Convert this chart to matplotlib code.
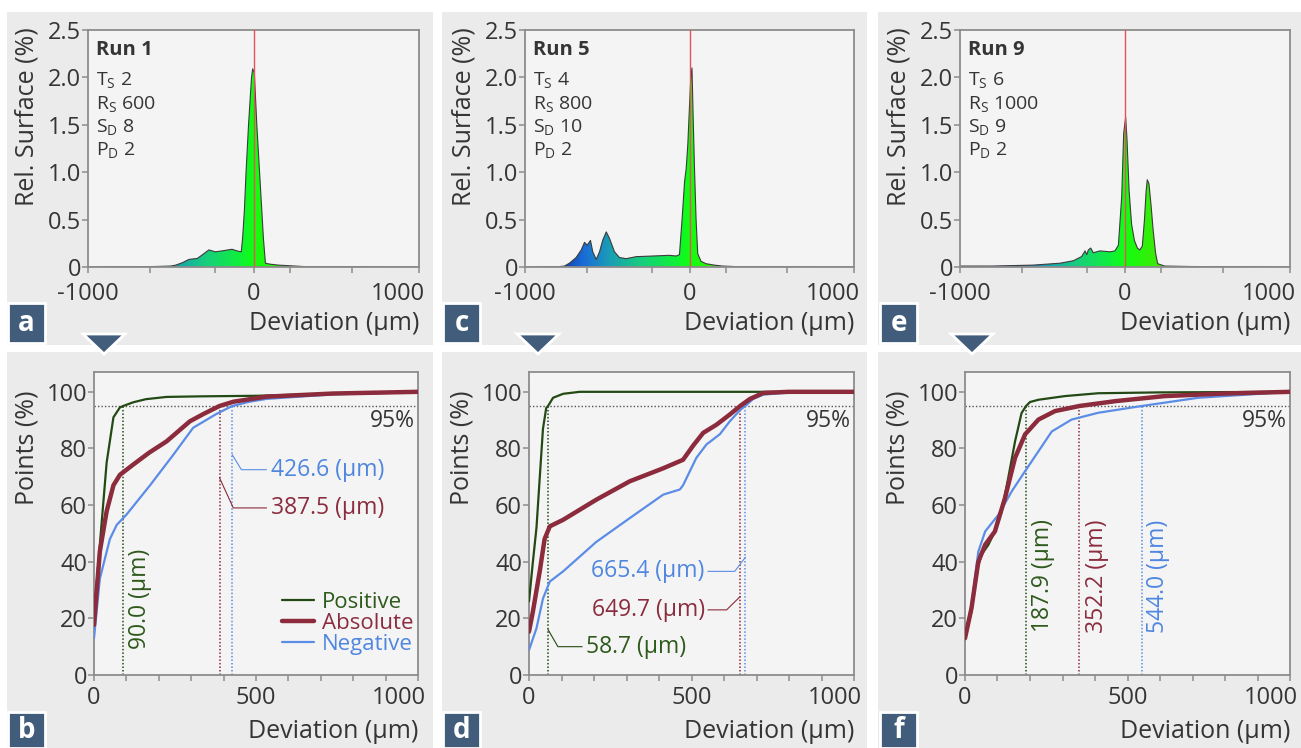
import numpy as np
import matplotlib
matplotlib.use("Agg")
import matplotlib.pyplot as plt
from matplotlib.colors import LinearSegmentedColormap
from matplotlib.patches import Rectangle, Polygon
from matplotlib.transforms import ScaledTranslation

plt.rcParams["font.family"] = ["Open Sans", "DejaVu Sans"]

W, H = 1301, 748

# ---- top row: relative surface histograms (deviation in um, rel. surface in %)
run1_x = [-1000, -800, -600, -500, -470, -430, -390, -340, -310, -270, -230, -190,
          -130, -100, -74, -66, -55, -45, -30, -12, -5, 5, 20, 40, 60, 72, 100,
          150, 200, 300, 400, 1000]
run1_y = [0.0, 0.003, 0.005, 0.01, 0.02, 0.045, 0.08, 0.09, 0.127, 0.18, 0.16, 0.17,
          0.187, 0.17, 0.16, 0.3, 0.6, 1.0, 1.5, 2.0, 2.09, 2.05, 1.5, 0.9, 0.3,
          0.04, 0.03, 0.02, 0.015, 0.005, 0.003, 0.0]

run5_x = [-1000, -800, -760, -730, -689, -658, -638, -622, -602, -588, -567, -547,
          -527, -506, -486, -456, -426, -385, -324, -223, -122, -81, -61, -44,
          -30, -20, -10, 0, 8, 15, 22, 30, 40, 50, 70, 100, 150, 200, 300, 1000]
run5_y = [0.0, 0.003, 0.01, 0.04, 0.10, 0.18, 0.26, 0.23, 0.28, 0.16, 0.08, 0.16,
          0.285, 0.37, 0.30, 0.16, 0.10, 0.088, 0.109, 0.116, 0.123, 0.116, 0.13,
          0.53, 0.9, 1.04, 1.3, 1.7, 2.0, 2.1, 1.6, 1.06, 0.5, 0.14, 0.06, 0.035,
          0.02, 0.01, 0.003, 0.0]

run9_x = [-1000, -800, -556, -394, -313, -263, -242, -232, -222, -208, -192, -152,
          -91, -61, -40, -20, -8, 4, 12, 25, 40, 57, 75, 90, 105, 118, 128, 135,
          145, 158, 170, 185, 198, 240, 400, 1000]
run9_y = [0.01, 0.01, 0.02, 0.04, 0.066, 0.11, 0.17, 0.13, 0.18, 0.2, 0.15, 0.17,
          0.16, 0.17, 0.23, 0.74, 1.41, 1.58, 1.35, 0.8, 0.45, 0.28, 0.2, 0.18,
          0.22, 0.5, 0.8, 0.92, 0.88, 0.65, 0.4, 0.15, 0.035, 0.01, 0.005, 0.0]

run_names = ["Run 1", "Run 5", "Run 9"]
ts_vals = [2, 4, 6]
rs_vals = [600, 800, 1000]
sd_vals = [8, 10, 9]
pd_vals = [2, 2, 2]

# ---- bottom row: cumulative points (%) vs deviation (um)
b_pos_x = [0, 18, 39, 60, 80, 90, 121, 160, 224, 327, 500, 700, 1000]
b_pos_y = [21, 46, 75, 91, 94.5, 95, 96.3, 97.4, 98.2, 98.4, 98.6, 99.2, 99.8]
b_abs_x = [0, 18, 39, 60, 80, 121, 170, 224, 296, 340, 387.5, 430, 532, 738, 1000]
b_abs_y = [17.7, 43.6, 57.8, 67, 70.7, 74.3, 78.5, 82.5, 89.6, 92.3, 95, 96.5, 98.3, 99.4, 100]
b_neg_x = [0, 18, 49, 70, 100, 173, 245, 306, 378, 426.6, 480, 532, 738, 1000]
b_neg_y = [13, 34, 48, 53, 56.6, 67, 77.8, 87.3, 92.2, 95, 96.5, 97.5, 99.1, 100]

d_pos_x = [0, 12, 23, 33, 43, 53, 58.7, 74, 105, 156, 300, 1000]
d_pos_y = [26, 40, 52, 69.6, 87, 94.3, 95, 97.9, 99.3, 100, 100, 100]
d_abs_x = [0, 12, 33, 48, 64, 105, 207, 310, 413, 474, 505, 536, 577, 618, 649.7,
           680, 721, 800, 1000]
d_abs_y = [15.3, 22.4, 36.6, 48, 52.5, 54.8, 61.9, 68.4, 73, 76, 81, 85.5, 88.4, 92,
           95, 97.5, 99.6, 100, 100]
d_neg_x = [0, 23, 43, 64, 105, 207, 310, 413, 464, 474, 515, 546, 587, 618, 649,
           665.4, 690, 721, 800, 1000]
d_neg_y = [8.8, 16.5, 27, 33, 36.6, 47, 55.4, 63.7, 65.5, 67, 76.7, 81.4, 85, 89.6,
           93.5, 95, 97.5, 99, 99.8, 100]

f_pos_x = [0, 20, 36, 51, 72, 92, 113, 133, 154, 174, 187.9, 200, 226, 308, 410, 600, 1000]
f_pos_y = [13, 22.4, 36.6, 42.5, 46, 50.7, 57.8, 69.6, 82.5, 92.5, 95, 96.4, 97.2, 98.5,
           99.5, 99.8, 100]
f_abs_x = [0, 20, 41, 62, 92, 123, 154, 185, 226, 277, 352.2, 462, 615, 800, 1000]
f_abs_y = [13, 23.6, 40, 46, 50.7, 62.5, 76.7, 85, 90.2, 93.2, 95, 96.7, 98.5, 99.4, 100]
f_neg_x = [0, 20, 41, 62, 103, 144, 185, 226, 267, 328, 410, 544, 718, 1000]
f_neg_y = [13, 24.8, 43.6, 50.7, 56.6, 64.9, 72, 79, 86, 90.2, 92.6, 95, 97.9, 100]

# 95% deviation values (positive, absolute, negative)
b_thr = [90.0, 387.5, 426.6]
d_thr = [58.7, 649.7, 665.4]
f_thr = [187.9, 352.2, 544.0]

series_names = ["Positive", "Absolute", "Negative"]

# ---- styles
PANEL_BG = "#ebebeb"
AX_BG = "#f4f4f4"
TAG = "#425d7c"
TXT = "#353535"
LINE_C = ["#234a14", "#8b2b3b", "#5b8de6"]
TEXT_C = ["#2e5a1c", "#8b2d3f", "#4f86e0"]
LINE_W = [1.6, 3.2, 1.6]

dev_cmap = LinearSegmentedColormap.from_list("dev", [
    (0.0, "#0a1448"), (0.1, "#0a3aa0"), (0.175, "#1a6ad8"), (0.25, "#1a9ab8"),
    (0.35, "#18cc80"), (0.45, "#10ee40"), (0.5, "#10ff10"), (0.6, "#40e808"),
    (0.75, "#a0a000"), (1.0, "#a03020")])


def fig_rect(x0, y0, x1, y1):
    return [x0 / W, 1 - y1 / H, (x1 - x0) / W, (y1 - y0) / H]


def fx(x):
    return x / W


def fy(y):
    return 1 - y / H


fig = plt.figure(figsize=(W / 100, H / 100), dpi=100)
fig.patch.set_facecolor("white")

# panel backgrounds
col_px = [(7, 433), (442, 867), (878, 1301)]
for x0, x1 in col_px:
    for y0, y1 in [(12, 345), (352, 748)]:
        fig.add_artist(Rectangle((fx(x0), fy(y1)), fx(x1 - x0), (y1 - y0) / H,
                                 transform=fig.transFigure, facecolor=PANEL_BG,
                                 edgecolor="none", zorder=-5))


def style_axes(ax, xpad):
    ax.set_facecolor(AX_BG)
    for s in ax.spines.values():
        s.set_color("#8c8c8c")
        s.set_linewidth(1.3)
    ax.tick_params(which="both", direction="out", color="#8c8c8c", labelcolor=TXT,
                   labelsize=17, width=1.1, length=4)
    ax.tick_params(axis="x", pad=xpad)
    ax.tick_params(axis="y", pad=1)


def shift_last_xlabel(ax, dx_px):
    # last x tick label sits flush with the right end of the axis
    lab = ax.get_xticklabels()[-1]
    lab.set_horizontalalignment("right")
    lab.set_transform(lab.get_transform() + ScaledTranslation(dx_px / 100, 0, fig.dpi_scale_trans))


top_axes_px = [(88, 419), (525, 854), (960, 1290)]
bot_axes_px = [(94, 418), (529, 854), (965, 1290)]
hist_x = [run1_x, run5_x, run9_x]
hist_y = [run1_y, run5_y, run9_y]
letters_top = ["a", "c", "e"]
letters_bot = ["b", "d", "f"]

grad = np.linspace(-1000, 1000, 600).reshape(1, -1)

for i in range(3):
    x0, x1 = top_axes_px[i]
    ax = fig.add_axes(fig_rect(x0, 30, x1, 267))
    style_axes(ax, 7)
    hx = np.array(hist_x[i])
    hy = np.array(hist_y[i])
    poly = ax.fill_between(hx, hy, 0, facecolor="none", edgecolor="none")
    im = ax.imshow(grad, extent=[-1000, 1000, 0, 2.5], aspect="auto", cmap=dev_cmap,
                   vmin=-1000, vmax=1000, origin="lower", zorder=1)
    im.set_clip_path(poly.get_paths()[0], transform=ax.transData)
    ax.plot(hx, hy, color="#3c3c3c", lw=0.8, zorder=2)
    ax.axvline(0, color="#e8505a", lw=1.0, zorder=3)
    ax.set_xlim(-1000, 1000)
    ax.set_ylim(0, 2.5)
    ax.set_xticks([-1000, 0, 1000])
    ax.set_xticklabels(["-1000", "0", "1000"])
    ax.set_xticks([-625, -230, 220, 595], minor=True)
    ax.set_yticks([0, 0.5, 1.0, 1.5, 2.0, 2.5])
    ax.set_yticklabels(["0", "0.5", "1.0", "1.5", "2.0", "2.5"])
    shift_last_xlabel(ax, 6)

    ax.text(0.025, 0.915, run_names[i], transform=ax.transAxes, fontsize=14.5,
            fontweight="bold", color=TXT, va="center", ha="left")
    params = [("T", "S", ts_vals[i]), ("R", "S", rs_vals[i]),
              ("S", "D", sd_vals[i]), ("P", "D", pd_vals[i])]
    for k, (a, b, v) in enumerate(params):
        yy = 0.785 - k * 0.099
        ax.text(0.025, yy, f"{a}$_\\mathregular{{{b}}}$ {v}",
                transform=ax.transAxes, fontsize=14, color=TXT, va="center", ha="left")

    fig.text(fx(x0 - 61), fy(117), "Rel. Surface (%)", rotation=90, fontsize=18,
             color=TXT, ha="center", va="center")
    fig.text(fx(x1), fy(324), "Deviation (µm)", fontsize=18, color=TXT,
             ha="right", va="center")

cdf_sets = [
    ([b_pos_x, b_abs_x, b_neg_x], [b_pos_y, b_abs_y, b_neg_y], b_thr),
    ([d_pos_x, d_abs_x, d_neg_x], [d_pos_y, d_abs_y, d_neg_y], d_thr),
    ([f_pos_x, f_abs_x, f_neg_x], [f_pos_y, f_abs_y, f_neg_y], f_thr),
]

bot_axes = []
for i in range(3):
    x0, x1 = bot_axes_px[i]
    ax = fig.add_axes(fig_rect(x0, 372, x1, 675))
    style_axes(ax, 4)
    xs, ys, thr = cdf_sets[i]
    ax.axhline(95, color="#555555", lw=1.0, ls=(0, (1, 1.5)), zorder=1)
    lines = {}
    for k in range(3):
        ax.vlines(thr[k], 0, 95, color=LINE_C[k], lw=1.1, ls=(0, (1, 1.3)), zorder=1)
    for k in [0, 2, 1]:
        ln, = ax.plot(xs[k], ys[k], color=LINE_C[k], lw=LINE_W[k], zorder=3,
                      solid_capstyle="round", solid_joinstyle="round")
        lines[k] = ln
    ax.set_xlim(0, 1000)
    ax.set_ylim(0, 107)
    ax.set_xticks([0, 500, 1000])
    ax.set_xticks(np.arange(0, 1001, 100), minor=True)
    ax.set_yticks([0, 20, 40, 60, 80, 100])
    shift_last_xlabel(ax, 8)
    ax.text(990, 89.6, "95%", fontsize=16.5, color=TXT, ha="right", va="center")
    fig.text(fx(x0 - 67), fy(448), "Points (%)", rotation=90, fontsize=18,
             color=TXT, ha="center", va="center")
    fig.text(fx(x1), fy(732), "Deviation (µm)", fontsize=18, color=TXT,
             ha="right", va="center")
    bot_axes.append((ax, lines, thr))

# annotations panel b
ax, lines, thr = bot_axes[0]
ax.text(142, 27, f"{thr[0]:.1f} (µm)", rotation=90, fontsize=16.5, color=TEXT_C[0],
        ha="center", va="center")
ax.plot([thr[2], 455, 532], [77.8, 72.5, 72.5], color=LINE_C[2], lw=0.8)
ax.text(545, 72.5, f"{thr[2]:.1f} (µm)", fontsize=16.5, color=TEXT_C[2], va="center")
ax.plot([thr[1], 430, 532], [69.6, 59, 59], color=LINE_C[1], lw=0.8)
ax.text(545, 59, f"{thr[1]:.1f} (µm)", fontsize=16.5, color=TEXT_C[1], va="center")
ax.legend([lines[0], lines[1], lines[2]], series_names, loc="lower left",
          bbox_to_anchor=(0.545, 0.03), frameon=False, fontsize=16,
          handlelength=1.45, handletextpad=0.35, labelspacing=0.0, borderpad=0,
          labelcolor=TEXT_C)

# annotations panel d
ax, lines, thr = bot_axes[1]
ax.plot([551, 633, thr[2]], [36.6, 36.6, 41.5], color=LINE_C[2], lw=0.8)
ax.text(541, 36.6, f"{thr[2]:.1f} (µm)", fontsize=16.5, color=TEXT_C[2],
        ha="right", va="center")
ax.plot([551, 608, thr[1]], [23, 23, 27.7], color=LINE_C[1], lw=0.8)
ax.text(541, 23, f"{thr[1]:.1f} (µm)", fontsize=16.5, color=TEXT_C[1],
        ha="right", va="center")
ax.plot([thr[0], 89, 163], [16, 10, 10], color=LINE_C[0], lw=0.8)
ax.text(175, 10, f"{thr[0]:.1f} (µm)", fontsize=16.5, color=TEXT_C[0], va="center")

# annotations panel f
ax, lines, thr = bot_axes[2]
for k, xpos in enumerate([241, 405, 595]):
    ax.text(xpos, 35, f"{thr[k]:.1f} (µm)", rotation=90, fontsize=16.5,
            color=TEXT_C[k], ha="center", va="center")

# panel letters and triangles
tag_x = [8, 443, 880]
tri_cx = [104, 538, 972]
for i in range(3):
    for (y0, y1, letter) in [(303, 343, letters_top[i]), (712, 748, letters_bot[i])]:
        fig.add_artist(Rectangle((fx(tag_x[i]), fy(y1)), fx(37), (y1 - y0) / H,
                                 transform=fig.transFigure, facecolor=TAG,
                                 edgecolor="white", lw=2, zorder=5))
        fig.text(fx(tag_x[i] + 18.5), fy((y0 + y1) / 2 + 1), letter, color="white",
                 fontsize=20, fontweight="bold", ha="center", va="center", zorder=6)
    cx = tri_cx[i]
    fig.add_artist(Polygon([(fx(cx - 21), fy(334)), (fx(cx + 21), fy(334)),
                            (fx(cx), fy(354))], closed=True,
                           transform=fig.transFigure, facecolor=TAG,
                           edgecolor="white", lw=2, zorder=5))

fig.savefig("out.png", dpi=100, facecolor="white")
